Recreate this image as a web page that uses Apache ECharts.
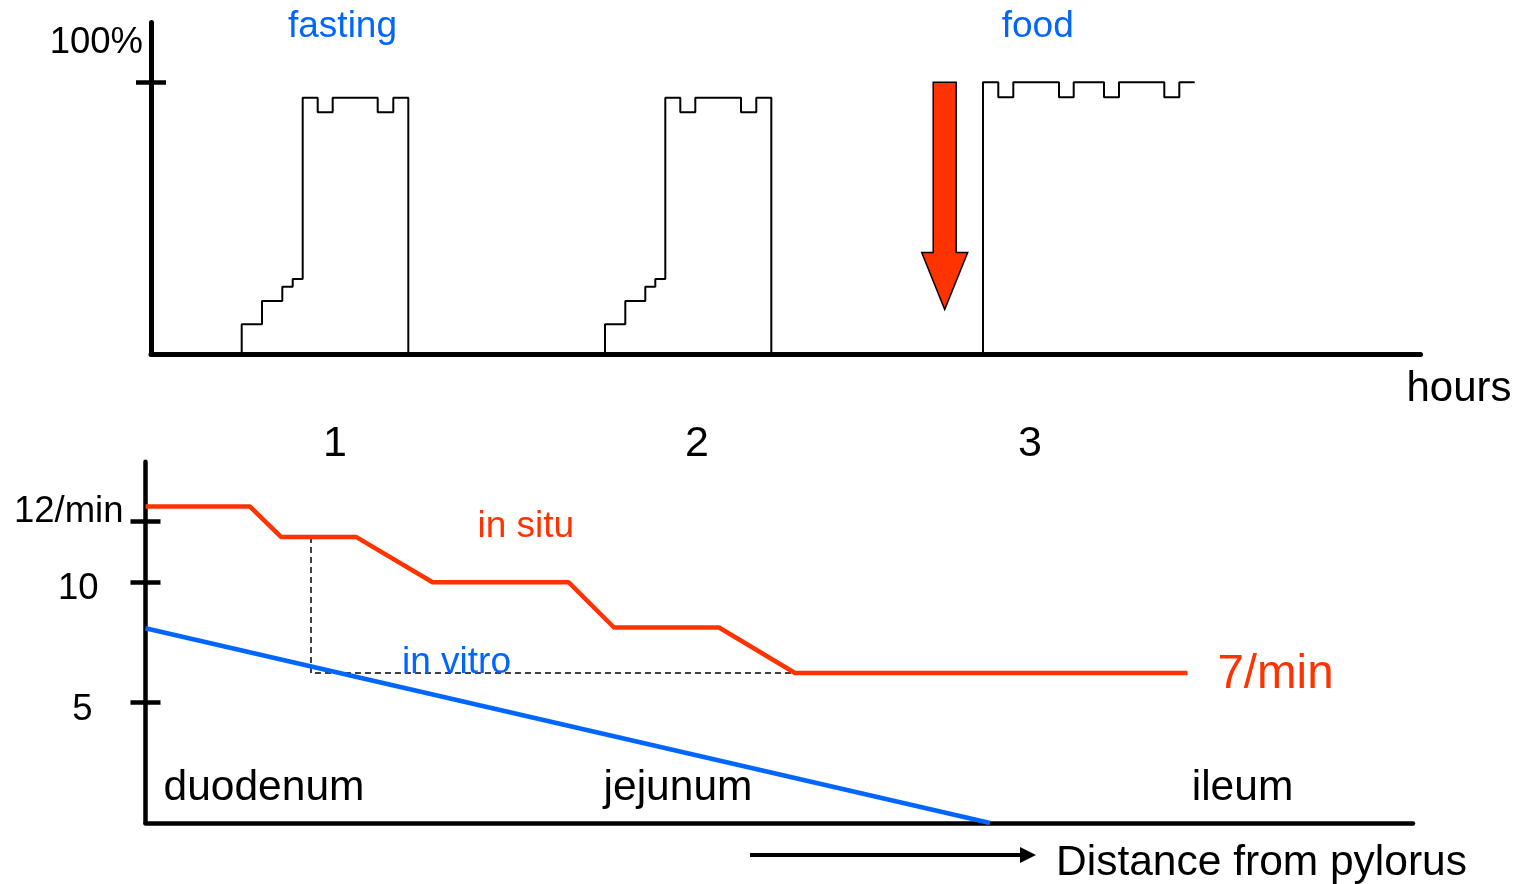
<!DOCTYPE html>
<html>
<head>
<meta charset="utf-8">
<script src="https://cdn.jsdelivr.net/npm/echarts@6/dist/echarts.min.js"></script>
<style>
html,body{margin:0;padding:0;background:#fff;}
#chart{width:1517px;height:884px;}
</style>
</head>
<body>
<div id="chart"></div>
<script>
// ---------- DATA ----------
// Top panel: motility (% of max) vs time (arbitrary time units along the hours axis)
// step data: [time, level from this time on]
const fastingCycle1 = [[90.7,0],[90.7,11],[111,19.6],[131.3,24.8],[141.7,27.7],[151.7,94.3],[166.7,89],[181.7,94.3],[226.7,89],[242.3,94.3],[257.3,0]];
const fastingCycle2 = [[454,0],[454,11],[474.3,19.6],[494.3,24.8],[504.3,27.7],[514.3,94.3],[529.3,89],[544.3,94.3],[590,89],[605.3,94.3],[620.3,0]];
const fedPattern    = [[832,0],[832,100],[847.3,94.5],[862.3,100],[908,94.5],[922.7,100],[953,94.5],[968,100],[1013.3,94.5],[1028.3,100],[1043.7,100]];
const foodArrow = [[793.7, 100, 16.4]];        // [time, from level, to level]
const hourTickPos = [184, 546, 879];
const hourLabels = ['1', '2', '3'];
const topYTicks = [100];
const topYLabelPos = [114.6];
const topYLabels = ['100%'];
const topNotes = [['fasting', 191.5, 120.6], ['food', 886.7, 120.4], ['hours', 1308, -12.9]];

// Bottom panel: slow-wave frequency (/min) vs distance from pylorus
const inSitu = [[0,13.14],[104.5,13.14],[135.5,11.88],[210.5,11.88],[287,10.0],[423,10.0],[468.5,8.12],[573.5,8.12],[649.5,6.23],[1042,6.23]];
const inVitro = [[0,8.09],[844.5,0]];
const guide = [[165.5,11.88],[165.5,6.23],[683,6.23]];
const distanceArrow = [[604.5,-1.33],[882.5,-1.33]];
const bottomYTicks = [5, 10, 12.54];
const bottomYLabelPos = [4.68, 9.74, 12.9];
const bottomYLabels = ['5', '10', '12/min'];
const bottomNotes = [['in situ', 380.3, 12.3], ['in vitro', 311, 6.64], ['7/min', 1130, 6.16],
  ['duodenum', 118.5, 1.43], ['jejunum', 532.5, 1.43], ['ileum', 1097, 1.43], ['Distance from pylorus', 1116, -1.68]];

// ---------- STYLE ----------
const FONT = "'Liberation Sans', Arial, sans-serif";
const BLUE = '#0066FF', RED = '#FF3300';
const noteStyle = {
  'fasting': {color: BLUE, size: 37}, 'food': {color: BLUE, size: 37}, 'hours': {color: '#000', size: 42},
  'in situ': {color: RED, size: 37}, 'in vitro': {color: BLUE, size: 37}, '7/min': {color: RED, size: 47.5},
  'duodenum': {color: '#000', size: 42.5}, 'jejunum': {color: '#000', size: 42.5}, 'ileum': {color: '#000', size: 42.5},
  'Distance from pylorus': {color: '#000', size: 42.5}
};
function notesSeries(list, gi) {
  return {
    type: 'scatter', xAxisIndex: gi, yAxisIndex: gi * 2, clip: false, silent: true,
    symbolSize: 1, itemStyle: {color: 'rgba(0,0,0,0)', opacity: 1}, z: 10,
    data: list.map(n => ({
      name: n[0], value: [n[1], n[2]],
      label: {show: true, position: 'inside', formatter: '{b}', color: noteStyle[n[0]].color, opacity: 1,
        textBorderWidth: 0, fontSize: noteStyle[n[0]].size, fontFamily: FONT, align: 'center', verticalAlign: 'middle'}
    }))
  };
}
function stepSeries(d) {
  return {type: 'line', xAxisIndex: 0, yAxisIndex: 0, data: d, step: 'end', symbol: 'none',
    lineStyle: {color: '#000', width: 2}, silent: true};
}
const AX = 5;

const option = {
  animation: false,
  backgroundColor: '#fff',
  grid: [
    {left: 151, top: 22.5, width: 1269.5, height: 331.7},
    {left: 145.5, top: 461.8, width: 1267.5, height: 361.2}
  ],
  xAxis: [
    {type: 'value', gridIndex: 0, min: 0, max: 1269.5,
      axisLine: {lineStyle: {color: '#000', width: AX}}, axisTick: {show: false}, splitLine: {show: false},
      axisLabel: {customValues: hourTickPos, formatter: v => hourLabels[hourTickPos.indexOf(v)],
        color: '#000', fontSize: 43, fontFamily: FONT, margin: 68}},
    {type: 'value', gridIndex: 1, min: 0, max: 1267.5,
      axisLine: {lineStyle: {color: '#000', width: 4.5}}, axisTick: {show: false}, splitLine: {show: false},
      axisLabel: {show: false}}
  ],
  yAxis: [
    {type: 'value', gridIndex: 0, min: 0, max: 122, position: 'left',
      axisLine: {show: true, lineStyle: {color: '#000', width: AX}},
      axisTick: {show: true, customValues: topYTicks, length: 15, lineStyle: {color: '#000', width: 4.5}},
      splitLine: {show: false},
      axisLabel: {customValues: topYLabelPos, formatter: v => topYLabels[topYLabelPos.indexOf(v)],
        color: '#000', fontSize: 36.5, fontFamily: FONT, margin: 8}},
    {type: 'value', gridIndex: 0, min: 0, max: 122, position: 'left', offset: 0,
      axisLine: {show: false},
      axisTick: {show: true, inside: true, customValues: topYTicks, length: 15, lineStyle: {color: '#000', width: 4.5}},
      splitLine: {show: false}, axisLabel: {show: false}},
    {type: 'value', gridIndex: 1, min: 0, max: 15, position: 'left',
      axisLine: {show: true, lineStyle: {color: '#000', width: 4.5}},
      axisTick: {show: true, customValues: bottomYTicks, length: 15, lineStyle: {color: '#000', width: 4.5}},
      splitLine: {show: false},
      axisLabel: {customValues: bottomYLabelPos,
        formatter: v => { const i = bottomYLabelPos.indexOf(v); return '{r' + i + '|' + bottomYLabels[i] + '}'; },
        margin: 22,
        rich: {
          r0: {color: '#000', fontSize: 36.5, fontFamily: FONT, padding: [0, 31, 0, 0]},
          r1: {color: '#000', fontSize: 36.5, fontFamily: FONT, padding: [0, 25, 0, 0]},
          r2: {color: '#000', fontSize: 36.5, fontFamily: FONT, padding: [0, 0, 0, 0]}
        }}},
    {type: 'value', gridIndex: 1, min: 0, max: 15, position: 'left', offset: 0,
      axisLine: {show: false},
      axisTick: {show: true, inside: true, customValues: bottomYTicks, length: 15, lineStyle: {color: '#000', width: 4.5}},
      splitLine: {show: false}, axisLabel: {show: false}}
  ],
  series: [
    stepSeries(fastingCycle1),
    stepSeries(fastingCycle2),
    stepSeries(fedPattern),
    {
      type: 'custom', xAxisIndex: 0, yAxisIndex: 0, silent: true, z: 5,
      data: foodArrow,
      encode: {x: 0, y: [1, 2]},
      renderItem: function (params, api) {
        const p0 = api.coord([api.value(0), api.value(1)]);
        const p1 = api.coord([api.value(0), api.value(2)]);
        const hw = 11.5, hh = 23, hl = 57;
        const x = p0[0];
        return {
          type: 'polygon',
          shape: {points: [[x - hw, p0[1]], [x + hw, p0[1]], [x + hw, p1[1] - hl], [x + hh, p1[1] - hl],
            [x, p1[1]], [x - hh, p1[1] - hl], [x - hw, p1[1] - hl]]},
          style: {fill: RED, stroke: '#000', lineWidth: 1.5}
        };
      }
    },
    notesSeries(topNotes, 0),
    {type: 'line', xAxisIndex: 1, yAxisIndex: 2, data: guide, symbol: 'none', silent: true,
      lineStyle: {color: '#000', width: 1.5, type: [6, 4]}},
    {type: 'line', xAxisIndex: 1, yAxisIndex: 2, data: inVitro, symbol: 'none', silent: true,
      lineStyle: {color: BLUE, width: 4.5}},
    {type: 'line', xAxisIndex: 1, yAxisIndex: 2, data: inSitu, symbol: 'none', silent: true,
      lineStyle: {color: RED, width: 4.5}},
    {type: 'lines', coordinateSystem: 'cartesian2d', xAxisIndex: 1, yAxisIndex: 2, clip: false, silent: true,
      symbol: ['none', 'triangle'], symbolSize: [16, 16],
      lineStyle: {color: '#000', width: 4, opacity: 1},
      itemStyle: {color: '#000'},
      data: [{coords: distanceArrow}]},
    notesSeries(bottomNotes, 1)
  ]
};
const chart = echarts.init(document.getElementById('chart'));
chart.setOption(option);
</script>
</body>
</html>
